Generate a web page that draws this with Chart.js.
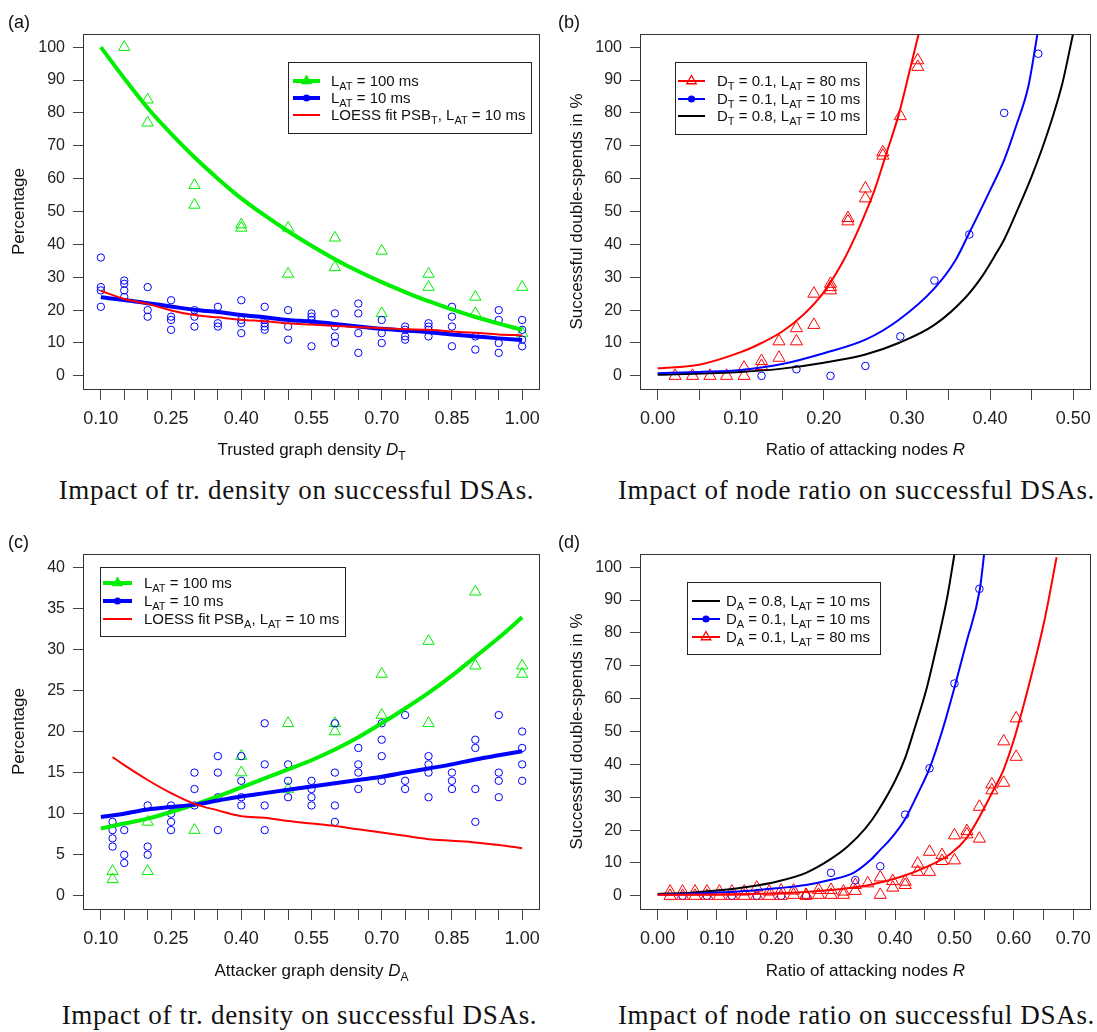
<!DOCTYPE html>
<html>
<head>
<meta charset="utf-8">
<script src="https://cdn.jsdelivr.net/npm/chart.js@4.4.1/dist/chart.umd.min.js"></script>
<style>
  html, body { margin: 0; padding: 0; background: #fff; overflow: hidden; }
  body { width: 1097px; height: 1032px; position: relative; }
  canvas { position: absolute; }
  .caption {
    position: absolute; width: 549px; text-align: center; white-space: nowrap;
    font-family: "Liberation Serif", "Times New Roman", serif;
    font-size: 27px; letter-spacing: 0.7px; line-height: 30px; color: #111;
  }
</style>
</head>
<body>
<canvas id="chartA" width="549" height="470" style="left:0;top:0"></canvas>
<canvas id="chartB" width="549" height="470" style="left:550px;top:0"></canvas>
<canvas id="chartC" width="549" height="470" style="left:0;top:520px"></canvas>
<canvas id="chartD" width="549" height="470" style="left:550px;top:520px"></canvas>
<div class="caption" style="left:22px;top:475px">Impact of tr. density on successful DSAs.</div>
<div class="caption" style="left:582px;top:475px">Impact of node ratio on successful DSAs.</div>
<div class="caption" style="left:25px;top:1000px">Impact of tr. density on successful DSAs.</div>
<div class="caption" style="left:582px;top:1000px">Impact of node ratio on successful DSAs.</div>
<script>
// ---- axis ticks ----
const densityTicks = [0.10,0.15,0.20,0.25,0.30,0.35,0.40,0.45,0.50,0.55,0.60,0.65,0.70,0.75,0.80,0.85,0.90,0.95,1.00];
const densityLabels = [0.10,0.25,0.40,0.55,0.70,0.85,1.00];
const ratioTicksB = [0.00,0.05,0.10,0.15,0.20,0.25,0.30,0.35,0.40,0.45,0.50];
const ratioTicksD = [0.00,0.05,0.10,0.15,0.20,0.25,0.30,0.35,0.40,0.45,0.50,0.55,0.60,0.65,0.70];
const ratioLabels = [0.00,0.10,0.20,0.30,0.40,0.50,0.60,0.70];
const pctTicks = [0,10,20,30,40,50,60,70,80,90,100];
const pctTicksC = [0,5,10,15,20,25,30,35,40];

// ---- (a) trusted graph density ----
const fitDensity = [0.10,0.15,0.20,0.25,0.30,0.35,0.40,0.45,0.50,0.55,0.60,0.65,0.70,0.75,0.80,0.85,0.90,0.95,1.00];
const aDensity10 = [0.10,0.15,0.20,0.25,0.30,0.35,0.40,0.45,0.50,0.55,0.60,0.65,0.70,0.75,0.80,0.85,0.90,0.95,1.00];
const aRuns10 = [[36,27,26,21],[29,28,26,24],[27,20,18],[23,18,17,14],[20,18,15],[21,16,15],[23,17,16,13],
  [21,17,16,15,14],[20,15,11],[19,18,17,9],[19,15,12,10],[22,19,13,7],[17,13,10],[15,14,12,11],
  [16,15,14,12],[21,18,15,9],[12,8],[20,17,10,7],[17,14,11,9]];
const aDensity100 = [0.15,0.20,0.30,0.40,0.50,0.60,0.70,0.80,0.90,1.00];
const aRuns100 = [[100],[84,77],[58,52],[46,45],[45,31],[42,33],[38,19],[31,27],[24,19],[27,13]];
const aFit100 = [100,90.5,81.5,73.7,66.5,60,54,48.8,44,39.6,35.5,31.8,28.5,25.5,22.7,20.2,17.9,15.9,14];
const aFit10 = [23.9,23.1,22.1,21.1,20.1,19.4,18.5,17.8,17,16.5,15.8,15,14.3,13.8,13.3,12.6,12,11.4,10.9];
const aLoess = [25.9,23.4,21.9,19.9,18.5,17.8,17.1,16.6,16,15.6,15.2,14.8,14.5,14.2,14,13.5,13.1,12.6,12.3];

// ---- (b) ratio of attacking nodes, trusted graph ----
const bRatio80 = [0.021,0.042,0.063,0.083,0.104,0.125,0.146,0.167,0.188,0.208,0.229,0.250,0.271,0.292,0.313];
const bRuns80 = [[0],[0],[0],[0],[0,2.5],[3,4.5],[10.5,5.5],[14.5,10.5],[25,15.5],[28,27,26],[48,47],[57,54],[68,67],[79],[96,94]];
const bRatio10 = [0.125,0.167,0.208,0.250,0.292,0.333,0.375,0.417,0.458];
const bRuns10 = [0,2,0,3,12,29,43,80,98];
const bFit80X = [0,0.05,0.10,0.125,0.15,0.175,0.20,0.2235,0.238,0.25,0.261,0.274,0.29,0.302,0.314];
const bFit80Y = [2.3,3.4,7.2,10,13.5,18.5,25.5,35,42.5,49.5,56.5,66.7,79.4,91.5,104];
const bFit10X = [0,0.05,0.10,0.15,0.20,0.25,0.29,0.333,0.358,0.374,0.402,0.417,0.431,0.446,0.457];
const bFit10Y = [0.8,1.2,1.8,3.6,6.9,11,17,26.6,35,43,57.5,65.7,75.8,88,104];
const bFitDenseX = [0,0.10,0.15,0.20,0.25,0.29,0.333,0.371,0.391,0.408,0.417,0.433,0.449,0.462,0.475,0.487,0.4998];
const bFitDenseY = [0.3,1.2,2.2,4,6.5,10,15.5,24,30.5,37.5,41.5,50.5,60,68.7,78.5,89,104];

// ---- (c) attacker graph density ----
const cDensity = [0.125,0.15,0.20,0.25,0.30,0.35,0.40,0.45,0.50,0.55,0.60,0.65,0.70,0.75,0.80,0.85,0.90,0.95,1.00];
const cRuns10 = [[9,8,7,6],[8,5,4],[11,6,5],[11,10,9,8],[15,13,11],[17,15,12,8],[17,14,12,11],[21,16,11,8],
  [16,14,12],[14,13,12,11],[21,15,11,9],[18,16,15,13],[21,19,17,14],[22,14,13],[17,16,15,12],
  [15,14,13],[19,18,13,9],[22,15,14,12],[20,18,16,14]];
const cDensity100 = [0.125,0.20,0.30,0.40,0.50,0.60,0.70,0.80,0.90,1.00];
const cRuns100 = [[3,2],[9,3],[8],[17,15],[21,13],[21,20],[27,22],[31,21],[37,28],[28,27]];
const cFit100 = [8.2,8.8,9.4,10.2,11.1,12.1,13.2,14.3,15.4,16.5,17.8,19.3,21.0,22.8,24.7,26.8,29.1,31.4,33.9];
const cFit10 = [9.6,10.0,10.5,10.8,11.1,11.6,12.1,12.5,12.9,13.3,13.7,14.1,14.5,15.0,15.5,16.0,16.6,17.1,17.6];
const cLoess = [16.9,15.9,14.1,12.5,11.2,10.4,9.7,9.5,9.1,8.8,8.5,8.1,7.7,7.3,6.9,6.7,6.5,6.2,5.8];

// ---- (d) ratio of attacking nodes, attacker graph ----
const dRatio80 = [0.021,0.042,0.063,0.083,0.104,0.125,0.146,0.167,0.188,0.208,0.229,0.250,0.271,0.292,0.313,
  0.333,0.354,0.375,0.396,0.417,0.438,0.458,0.479,0.500,0.521,0.542,0.563,0.583,0.604];
const dRuns80 = [[0,1.3],[0,1.3],[0,1.3],[0,1.3],[0,1.3],[0,1.3],[0,1.3],[0,2.5],[0,1.3],[0,1.6],
  [0.3,1.6],[0,0.3],[0.3,1.8],[0.3,1.8],[0.3,1.3],[1.5,3.3],[3.8],[0.3,5.6],[2.5,4.5],[3.3,4.3],
  [7.3,9.8],[7.3,13.4],[10.6,12.4],[10.8,18.4],[18.7,19.7],[17.4,27.1],[32.1,33.9],[34.4,47],[42.3,54]];
const dRatio10 = [0.042,0.083,0.125,0.167,0.208,0.250,0.292,0.333,0.375,0.417,0.458,0.500,0.542];
const dRuns10 = [0,0,0,0,0,0,7,4.8,9,24.7,38.8,64.6,93.4];
const dFitDenseX = [0,0.05,0.10,0.15,0.20,0.25,0.29,0.32,0.35,0.37,0.40,0.417,0.433,0.453,0.465,0.477,0.489,0.500];
const dFitDenseY = [0.6,0.9,1.6,2.7,4.3,7,11,15,20.5,25.5,35,42,51,63,72,81.5,92,104];
const dFit10X = [0,0.10,0.15,0.20,0.25,0.29,0.33,0.358,0.375,0.391,0.417,0.438,0.458,0.479,0.4995,0.52,0.543,0.550];
const dFit10Y = [0.3,1,1.5,2.3,3.3,4.8,7,10.8,14,17,23.4,31,38.8,50,63,77,93.5,104];
const dFit80X = [0,0.10,0.20,0.25,0.305,0.357,0.41,0.453,0.494,0.52,0.542,0.562,0.583,0.601,0.618,0.635,0.653,0.672];
const dFit80Y = [0.3,0.4,0.8,1.2,2,3.3,5.8,8.8,12.9,17.5,24,30.9,38.5,48,59,71,85,103];

// ---- colours / fonts ----
const GREEN = '#00ee00', BLUE = '#0000ff', RED = '#ff0000', BLACK = '#000000';
const FONT = '"Liberation Sans", Arial, Helvetica, sans-serif';
Chart.defaults.font.family = FONT;
Chart.defaults.font.size = 16;
Chart.defaults.color = '#222';

const pts = (xs, ys) => xs.flatMap((x, i) => [].concat(ys[i]).map(y => ({ x, y })));
const line = (xs, ys) => xs.map((x, i) => ({ x, y: ys[i] }));

function fitLine(data, color, width) {
  return { data, showLine: true, borderColor: color, borderWidth: width, pointRadius: 0,
    cubicInterpolationMode: 'monotone', fill: false };
}
function markers(data, color, style, radius) {
  return { data, showLine: false, pointStyle: style, pointRadius: radius, pointBorderWidth: 1,
    borderColor: color, pointBorderColor: color, backgroundColor: 'rgba(0,0,0,0)',
    pointBackgroundColor: 'rgba(0,0,0,0)' };
}

// text with italic / subscript pieces: [text, 'n' | 'i' | 's']
function drawRich(ctx, x, y, segs, size, align) {
  const fontOf = st => st === 'i' ? `italic ${size}px ${FONT}` : st === 's' ? `${Math.round(size * 0.72)}px ${FONT}` : `${size}px ${FONT}`;
  let total = 0;
  const widths = segs.map(([t, st]) => { ctx.font = fontOf(st); const w = ctx.measureText(t).width; total += w; return w; });
  let cx = align === 'center' ? x - total / 2 : x;
  const base = y + size * 0.36;
  ctx.textAlign = 'left';
  ctx.textBaseline = 'alphabetic';
  segs.forEach(([t, st], i) => {
    ctx.font = fontOf(st);
    ctx.fillText(t, cx, st === 's' ? base + size * 0.27 : base);
    cx += widths[i];
  });
}

function drawMarker(ctx, kind, x, y, color) {
  ctx.beginPath();
  if (kind === 'dot') {
    ctx.arc(x, y, 3.6, 0, Math.PI * 2);
    ctx.fillStyle = color; ctx.fill();
  } else if (kind === 'tri' || kind === 'triOpen') {
    const r = kind === 'tri' ? 6.5 : 5.5;
    ctx.moveTo(x, y - r);
    ctx.lineTo(x + r * 0.866, y + r * 0.5);
    ctx.lineTo(x - r * 0.866, y + r * 0.5);
    ctx.closePath();
    if (kind === 'tri') { ctx.fillStyle = color; ctx.fill(); }
    else { ctx.strokeStyle = color; ctx.lineWidth = 1.3; ctx.stroke(); }
  }
}

// frame, panel tag, axis titles and legend box
const panelDecor = {
  id: 'panelDecor',
  afterDraw(chart, args, o) {
    const ctx = chart.ctx, a = chart.chartArea;
    ctx.save();
    ctx.strokeStyle = '#333'; ctx.lineWidth = 1;
    ctx.strokeRect(Math.round(a.left) - 0.5, Math.round(a.top) + 0.5,
      Math.round(a.right - a.left) + 1, Math.round(a.bottom - a.top));

    ctx.fillStyle = '#111';
    ctx.font = `18px ${FONT}`;
    ctx.textAlign = 'left'; ctx.textBaseline = 'middle';
    ctx.fillText(o.tag, 8, 23);

    ctx.save();
    ctx.translate(o.yTitleX, (a.top + a.bottom) / 2);
    ctx.rotate(-Math.PI / 2);
    ctx.font = `17px ${FONT}`;
    ctx.textAlign = 'center'; ctx.textBaseline = 'middle';
    ctx.fillText(o.yTitle, 0, 0);
    ctx.restore();

    drawRich(ctx, (a.left + a.right) / 2, o.xTitleY, o.xTitle, 17, 'center');

    const L = o.legend;
    ctx.fillStyle = '#fff';
    ctx.fillRect(L.box[0], L.box[1], L.box[2] - L.box[0], L.box[3] - L.box[1]);
    ctx.strokeStyle = '#222'; ctx.lineWidth = 1;
    ctx.strokeRect(L.box[0] + 0.5, L.box[1] + 0.5, L.box[2] - L.box[0], L.box[3] - L.box[1]);
    L.rows.forEach(r => {
      ctx.beginPath();
      ctx.strokeStyle = r.color; ctx.lineWidth = r.width;
      ctx.moveTo(L.sample[0], r.y); ctx.lineTo(L.sample[1], r.y);
      ctx.stroke();
      if (r.marker) drawMarker(ctx, r.marker, (L.sample[0] + L.sample[1]) / 2, r.y, r.color);
      ctx.fillStyle = '#111';
      drawRich(ctx, L.textX, r.y, r.label, 15, 'left');
    });
    ctx.restore();
  }
};

function axis(c, dir) {
  return {
    type: 'linear', min: c.min, max: c.max,
    afterBuildTicks: s => { s.ticks = c.ticks.map(v => ({ value: v })); },
    afterFit: s => { if (dir === 'x') s.height = c.size; else s.width = c.size; },
    grid: { drawOnChartArea: false, drawTicks: true, tickLength: 11, color: '#444' },
    border: { display: false },
    ticks: { autoSkip: false, maxRotation: 0, minRotation: 0, padding: 8,
      color: '#222', font: { size: dir === 'x' ? 18 : 16 }, callback: c.format }
  };
}

function makePanel(id, datasets, xCfg, yCfg, decor, padRight) {
  return new Chart(document.getElementById(id), {
    type: 'scatter',
    data: { datasets },
    options: {
      responsive: false, animation: false, events: [],
      layout: { padding: { top: 34, right: padRight, left: 0, bottom: 0 } },
      plugins: { legend: { display: false }, tooltip: { enabled: false }, panelDecor: decor },
      scales: { x: axis(xCfg, 'x'), y: axis(yCfg, 'y') }
    },
    plugins: [panelDecor]
  });
}

const densityFmt = v => densityLabels.includes(v) ? v.toFixed(2) : '';
const ratioFmt = v => ratioLabels.includes(v) ? v.toFixed(2) : '';
const plainFmt = v => String(v);
const L_AT = [['L', 'n'], ['AT', 's']];

// (a)
makePanel('chartA', [
  fitLine(line(fitDensity, aLoess), RED, 2),
  fitLine(line(fitDensity, aFit10), BLUE, 4),
  fitLine(line(fitDensity, aFit100), GREEN, 4),
  markers(pts(aDensity10, aRuns10), BLUE, 'circle', 3.7),
  markers(pts(aDensity100, aRuns100), GREEN, 'triangle', 6.5)
], { min: 0.064, max: 1.036, ticks: densityTicks, format: densityFmt, size: 81 },
   { min: -4, max: 104, ticks: pctTicks, format: plainFmt, size: 84 },
{
  tag: '(a)', yTitle: 'Percentage', yTitleX: 19, xTitleY: 449,
  xTitle: [['Trusted graph density ', 'n'], ['D', 'i'], ['T', 's']],
  legend: { box: [288, 62, 531, 133], sample: [293, 320], textX: 331, rows: [
    { y: 81, color: GREEN, width: 4, marker: 'tri', label: [...L_AT, [' = 100 ms', 'n']] },
    { y: 98, color: BLUE, width: 4, marker: 'dot', label: [...L_AT, [' = 10 ms', 'n']] },
    { y: 115, color: RED, width: 2, label: [['LOESS fit PSB', 'n'], ['T', 's'], [', ', 'n'], ...L_AT, [' = 10 ms', 'n']] }
  ] }
}, 10);

// (b)
makePanel('chartB', [
  fitLine(line(bFit80X, bFit80Y), RED, 2),
  fitLine(line(bFit10X, bFit10Y), BLUE, 2),
  fitLine(line(bFitDenseX, bFitDenseY), BLACK, 2),
  markers(pts(bRatio80, bRuns80), RED, 'triangle', 7),
  markers(pts(bRatio10, bRuns10), BLUE, 'circle', 3.8)
], { min: -0.02, max: 0.52, ticks: ratioTicksB, format: ratioFmt, size: 81 },
   { min: -4, max: 104, ticks: pctTicks, format: plainFmt, size: 91 },
{
  tag: '(b)', yTitle: 'Successful double-spends in %', yTitleX: 27, xTitleY: 449,
  xTitle: [['Ratio of attacking nodes ', 'n'], ['R', 'i']],
  legend: { box: [125, 62, 316, 134], sample: [128, 155], textX: 167, rows: [
    { y: 81, color: RED, width: 2, marker: 'triOpen', label: [['D', 'n'], ['T', 's'], [' = 0.1, ', 'n'], ...L_AT, [' = 80 ms', 'n']] },
    { y: 99, color: BLUE, width: 2, marker: 'dot', label: [['D', 'n'], ['T', 's'], [' = 0.1, ', 'n'], ...L_AT, [' = 10 ms', 'n']] },
    { y: 116, color: BLACK, width: 2, label: [['D', 'n'], ['T', 's'], [' = 0.8, ', 'n'], ...L_AT, [' = 10 ms', 'n']] }
  ] }
}, 3);

// (c)
makePanel('chartC', [
  fitLine(line(cDensity, cLoess), RED, 2),
  fitLine(line(fitDensity, cFit10), BLUE, 4),
  fitLine(line(fitDensity, cFit100), GREEN, 4),
  markers(pts(cDensity, cRuns10), BLUE, 'circle', 3.7),
  markers(pts(cDensity100, cRuns100), GREEN, 'triangle', 6.5)
], { min: 0.064, max: 1.036, ticks: densityTicks, format: densityFmt, size: 81 },
   { min: -1.6, max: 41.6, ticks: pctTicksC, format: plainFmt, size: 84 },
{
  tag: '(c)', yTitle: 'Percentage', yTitleX: 19, xTitleY: 450,
  xTitle: [['Attacker graph density ', 'n'], ['D', 'i'], ['A', 's']],
  legend: { box: [100, 47, 345, 116], sample: [103, 132], textX: 144, rows: [
    { y: 63, color: GREEN, width: 4, marker: 'tri', label: [...L_AT, [' = 100 ms', 'n']] },
    { y: 81, color: BLUE, width: 4, marker: 'dot', label: [...L_AT, [' = 10 ms', 'n']] },
    { y: 99, color: RED, width: 2, label: [['LOESS fit PSB', 'n'], ['A', 's'], [', ', 'n'], ...L_AT, [' = 10 ms', 'n']] }
  ] }
}, 10);

// (d)
makePanel('chartD', [
  fitLine(line(dFit80X, dFit80Y), RED, 2),
  fitLine(line(dFit10X, dFit10Y), BLUE, 2),
  fitLine(line(dFitDenseX, dFitDenseY), BLACK, 2),
  markers(pts(dRatio80, dRuns80), RED, 'triangle', 7),
  markers(pts(dRatio10, dRuns10), BLUE, 'circle', 3.8)
], { min: -0.028, max: 0.728, ticks: ratioTicksD, format: ratioFmt, size: 81 },
   { min: -4, max: 104, ticks: pctTicks, format: plainFmt, size: 91 },
{
  tag: '(d)', yTitle: 'Successful double-spends in %', yTitleX: 27, xTitleY: 450,
  xTitle: [['Ratio of attacking nodes ', 'n'], ['R', 'i']],
  legend: { box: [137, 62, 330, 134], sample: [142, 170], textX: 176, rows: [
    { y: 81, color: BLACK, width: 2, label: [['D', 'n'], ['A', 's'], [' = 0.8, ', 'n'], ...L_AT, [' = 10 ms', 'n']] },
    { y: 99, color: BLUE, width: 2, marker: 'dot', label: [['D', 'n'], ['A', 's'], [' = 0.1, ', 'n'], ...L_AT, [' = 10 ms', 'n']] },
    { y: 117, color: RED, width: 2, marker: 'triOpen', label: [['D', 'n'], ['A', 's'], [' = 0.1, ', 'n'], ...L_AT, [' = 80 ms', 'n']] }
  ] }
}, 3);
</script>
</body>
</html>
